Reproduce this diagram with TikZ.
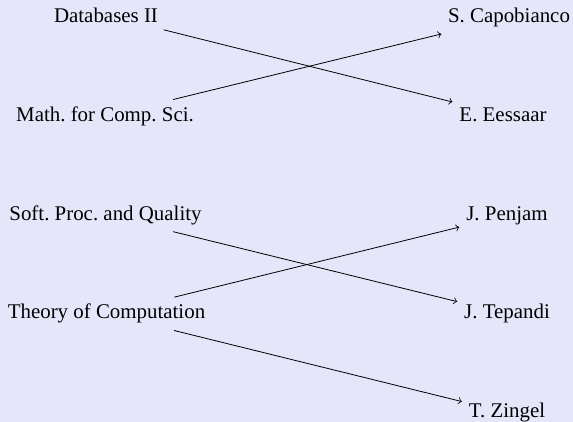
\documentclass[tikz,border=0pt]{standalone}
\usepackage{fontspec}
\setmainfont{Liberation Serif}
\definecolor{bgcol}{HTML}{E6E6FA}
\begin{document}
\begin{tikzpicture}[x=0.5pt,y=-0.5pt,
  lbl/.style={anchor=base,inner sep=3.33pt,font=\fontsize{10.45}{12.5}\selectfont},
  conn/.style={->,line width=0.4pt}]
\fill[bgcol] (0,0) rectangle (573,422);
\useasboundingbox (0,0) rectangle (573,422);
\node[lbl] (db) at (106,22.5) {Databases II};
\node[lbl] (math) at (105,121.3) {Math.\ for Comp.\ Sci.};
\node[lbl] (soft) at (105.5,220.1) {Soft.\ Proc.\ and Quality};
\node[lbl] (theory) at (106.5,318.9) {Theory of Computation};
\node[lbl] (cap) at (509,22.5) {S.\ Capobianco};
\node[lbl] (ees) at (503,121.3) {E.\ Eessaar};
\node[lbl] (pen) at (507,220.1) {J.\ Penjam};
\node[lbl] (tep) at (507,318.9) {J.\ Tepandi};
\node[lbl] (zin) at (507,417.7) {T.\ Zingel};
\draw[conn] (db) -- (ees);
\draw[conn] (math) -- (cap);
\draw[conn] (soft) -- (tep);
\draw[conn] (theory) -- (pen);
\draw[conn] (theory) -- (zin);
\end{tikzpicture}
\end{document}
